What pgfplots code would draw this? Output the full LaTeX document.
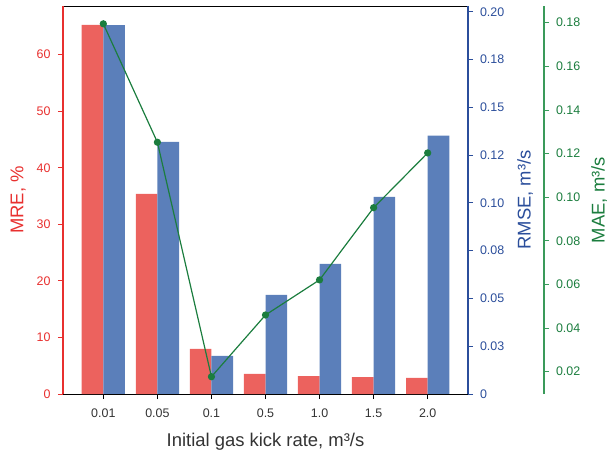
\documentclass[border=0pt]{standalone}
\usepackage{fontspec}
\setmainfont{Liberation Sans}
\usepackage{pgfplots}
\pgfplotsset{compat=1.18}
\definecolor{mrered}{HTML}{E8302F}
\definecolor{barred}{HTML}{EC625E}
\definecolor{barblue}{HTML}{5B7FBA}
\definecolor{rmseblue}{HTML}{2B4E9B}
\definecolor{maegreen}{HTML}{1B7D3E}
\definecolor{maeaxis}{HTML}{3A9A5A}
\definecolor{txtgray}{HTML}{333333}
\begin{document}
\begin{tikzpicture}
\useasboundingbox (-63bp,-61bp) rectangle (545bp,394bp);
\pgfplotsset{
 base/.style={
  at={(0,0)}, anchor=south west, scale only axis, height=388bp,
  xmin=-0.746,
  tick align=outside, major tick length=5bp,
  /pgf/number format/assume math mode=true,
  tick label style={font=\fontsize{12.5}{15}\selectfont},
  label style={font=\fontsize{18.5}{22}\selectfont},
 }
}
% MRE axis
\begin{axis}[base, width=405bp, xmax=6.746,
  ymin=0, ymax=68.6,
  axis y line*=left,
  xtick={0,...,6}, xticklabels={0.01,0.05,0.1,0.5,1.0,1.5,2.0},
  xtick pos=left,
  ytick={0,10,...,60},
  y axis line style={mrered, line width=1.2pt},
  x axis line style={black, line width=0.8pt},
  ytick style={mrered, line width=0.8pt},
  xtick style={black, line width=0.8pt},
  yticklabel style={text=mrered, xshift=-4bp},
  xticklabel style={text=txtgray, yshift=-6bp},
  ylabel={MRE, \%},
  ylabel style={text=mrered, at={(axis description cs:-0.098,0.5)}, anchor=base},
  xlabel={Initial gas kick rate, m³/s},
  xlabel style={text=txtgray, at={(axis description cs:0.5,-0.1358)}, anchor=base},
  ]
\addplot[ybar, bar width=0.4, bar shift=0pt, fill=barred, draw=none] coordinates {
(-0.2,65.25) (0.8,35.4) (1.8,7.96) (2.8,3.54) (3.8,3.18) (4.8,3.0) (5.8,2.83)};
\end{axis}
% RMSE axis
\begin{axis}[base, width=405bp, xmax=6.746,
  ymin=0, ymax=0.203,
  axis y line*=right, axis x line=none,
  ytick={0,0.025,0.05,0.075,0.1,0.125,0.15,0.175,0.2},
  yticklabels={0,0.03,0.05,0.08,0.10,0.12,0.15,0.18,0.20},
  y axis line style={rmseblue, line width=1.2pt},
  ytick style={rmseblue, line width=0.8pt},
  yticklabel style={text=rmseblue, xshift=3.5bp},
  ylabel={RMSE, m³/s},
  ylabel style={text=rmseblue, at={(axis description cs:1.1548,0.5)}, anchor=base, rotate=0},
  ]
\addplot[ybar, bar width=0.4, bar shift=0pt, fill=barblue, draw=none] coordinates {
(0.2,0.193) (1.2,0.1319) (2.2,0.0200) (3.2,0.0519) (4.2,0.0681) (5.2,0.1031) (6.2,0.1352)};
\end{axis}
% MAE axis
\begin{axis}[base, width=481bp, xmax=8.152,
  ymin=0.00978, ymax=0.18766,
  axis y line*=right, axis x line=none,
  ytick={0.02,0.04,0.06,0.08,0.10,0.12,0.14,0.16,0.18},
  yticklabels={0.02,0.04,0.06,0.08,0.10,0.12,0.14,0.16,0.18},
  y axis line style={maeaxis, line width=1.2pt},
  ytick style={maeaxis, line width=0.8pt},
  yticklabel style={text=maegreen, xshift=3.5bp},
  ylabel={MAE, m³/s},
  ylabel style={text=maegreen, at={(axis description cs:1.126,0.5)}, anchor=base},
  clip=false,
  ]
\addplot[maegreen, line width=1.2pt, mark=*, mark size=3pt, mark options={fill=maegreen, draw=maegreen}] coordinates {
(0,0.1795) (1,0.1252) (2,0.0177) (3,0.0460) (4,0.0621) (5,0.0952) (6,0.1203)};
\end{axis}
\end{tikzpicture}
\end{document}
